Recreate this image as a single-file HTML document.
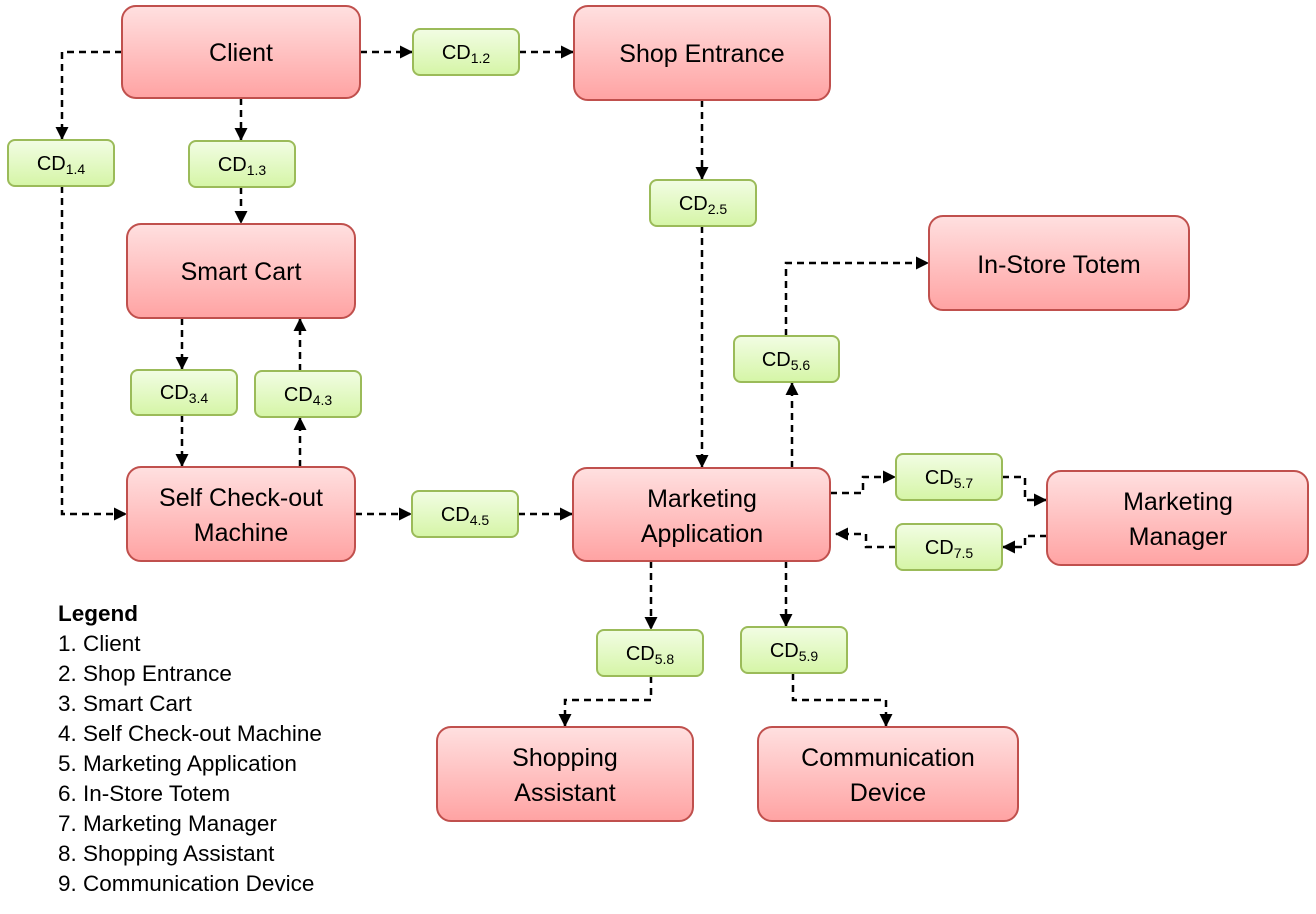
<!DOCTYPE html>
<html><head><meta charset="utf-8"><style>
body{margin:0;background:#fff}
svg{display:block;font-family:"Liberation Sans",sans-serif}
.r{fill:url(#gr);stroke:#c0504d;stroke-width:2}
.g{fill:url(#gg);stroke:#9bbb59;stroke-width:2}
.l{fill:none;stroke:#000;stroke-width:2.5;stroke-dasharray:7 5;marker-end:url(#a)}
.t{font-size:25px;text-anchor:middle;fill:#000}
.c{font-size:20px;text-anchor:middle;fill:#000}
.c tspan.s{font-size:14px}
.lg{font-size:22.5px;fill:#000}
</style></head><body>
<svg width="1316" height="914" viewBox="0 0 1316 914">
<defs>
<linearGradient id="gr" x1="0" y1="0" x2="0" y2="1"><stop offset="0" stop-color="#ffe0e0"/><stop offset="1" stop-color="#ffa3a3"/></linearGradient>
<linearGradient id="gg" x1="0" y1="0" x2="0" y2="1"><stop offset="0" stop-color="#f2fde4"/><stop offset="1" stop-color="#d5f5a6"/></linearGradient>
<marker id="a" markerWidth="13" markerHeight="13" refX="12" refY="6.5" orient="auto" markerUnits="userSpaceOnUse"><path d="M0,0 L13,6.5 L0,13 z" fill="#000"/></marker>
</defs>
<path class="l" d="M122,52 H62 V139"/>
<path class="l" d="M241,98 V140"/>
<path class="l" d="M360,52 H412"/>
<path class="l" d="M519,52 H573"/>
<path class="l" d="M62,186 V514 H126"/>
<path class="l" d="M241,187 V223"/>
<path class="l" d="M182,318 V369"/>
<path class="l" d="M182,415 V466"/>
<path class="l" d="M300,467 V418"/>
<path class="l" d="M300,371 V319"/>
<path class="l" d="M355,514 H411"/>
<path class="l" d="M518,514 H572"/>
<path class="l" d="M702,100 V179"/>
<path class="l" d="M702,226 V467"/>
<path class="l" d="M792,468 V383"/>
<path class="l" d="M786,336 V263 H928"/>
<path class="l" d="M830,493 H863 V477 H895"/>
<path class="l" d="M1002,477 H1025 V500 H1046"/>
<path class="l" d="M1047,536 H1025 V547 H1003"/>
<path class="l" d="M896,547 H866 V534 H836"/>
<path class="l" d="M651,561 V629"/>
<path class="l" d="M786,561 V626"/>
<path class="l" d="M651,676 V700 H565 V726"/>
<path class="l" d="M793,673 V700 H886 V726"/>
<rect class="r" x="122" y="6" width="238" height="92" rx="14"/><text class="t" x="241" y="61">Client</text>
<rect class="r" x="574" y="6" width="256" height="94" rx="14"/><text class="t" x="702" y="62">Shop Entrance</text>
<rect class="r" x="127" y="224" width="228" height="94" rx="14"/><text class="t" x="241" y="280">Smart Cart</text>
<rect class="r" x="127" y="467" width="228" height="94" rx="14"/><text class="t" x="241" y="506">Self Check-out</text><text class="t" x="241" y="541">Machine</text>
<rect class="r" x="573" y="468" width="257" height="93" rx="14"/><text class="t" x="702" y="507">Marketing</text><text class="t" x="702" y="542">Application</text>
<rect class="r" x="929" y="216" width="260" height="94" rx="14"/><text class="t" x="1059" y="273">In-Store Totem</text>
<rect class="r" x="1047" y="471" width="261" height="94" rx="14"/><text class="t" x="1178" y="510">Marketing</text><text class="t" x="1178" y="545">Manager</text>
<rect class="r" x="437" y="727" width="256" height="94" rx="14"/><text class="t" x="565" y="766">Shopping</text><text class="t" x="565" y="801">Assistant</text>
<rect class="r" x="758" y="727" width="260" height="94" rx="14"/><text class="t" x="888" y="766">Communication</text><text class="t" x="888" y="801">Device</text>
<g>
<rect class="g" x="413" y="29" width="106" height="46" rx="7"/><text class="c" x="466" y="59">CD<tspan class="s" dy="4">1.2</tspan></text>
<rect class="g" x="8" y="140" width="106" height="46" rx="7"/><text class="c" x="61" y="170">CD<tspan class="s" dy="4">1.4</tspan></text>
<rect class="g" x="189" y="141" width="106" height="46" rx="7"/><text class="c" x="242" y="171">CD<tspan class="s" dy="4">1.3</tspan></text>
<rect class="g" x="650" y="180" width="106" height="46" rx="7"/><text class="c" x="703" y="210">CD<tspan class="s" dy="4">2.5</tspan></text>
<rect class="g" x="734" y="336" width="105" height="46" rx="7"/><text class="c" x="786" y="366">CD<tspan class="s" dy="4">5.6</tspan></text>
<rect class="g" x="131" y="370" width="106" height="45" rx="7"/><text class="c" x="184" y="399">CD<tspan class="s" dy="4">3.4</tspan></text>
<rect class="g" x="255" y="371" width="106" height="46" rx="7"/><text class="c" x="308" y="401">CD<tspan class="s" dy="4">4.3</tspan></text>
<rect class="g" x="412" y="491" width="106" height="46" rx="7"/><text class="c" x="465" y="521">CD<tspan class="s" dy="4">4.5</tspan></text>
<rect class="g" x="896" y="454" width="106" height="46" rx="7"/><text class="c" x="949" y="484">CD<tspan class="s" dy="4">5.7</tspan></text>
<rect class="g" x="896" y="524" width="106" height="46" rx="7"/><text class="c" x="949" y="554">CD<tspan class="s" dy="4">7.5</tspan></text>
<rect class="g" x="597" y="630" width="106" height="46" rx="7"/><text class="c" x="650" y="660">CD<tspan class="s" dy="4">5.8</tspan></text>
<rect class="g" x="741" y="627" width="106" height="46" rx="7"/><text class="c" x="794" y="657">CD<tspan class="s" dy="4">5.9</tspan></text>
</g>
<text class="lg" x="58" y="621" font-weight="bold">Legend</text>
<text class="lg" x="58" y="651">1. Client</text>
<text class="lg" x="58" y="681">2. Shop Entrance</text>
<text class="lg" x="58" y="711">3. Smart Cart</text>
<text class="lg" x="58" y="741">4. Self Check-out Machine</text>
<text class="lg" x="58" y="771">5. Marketing Application</text>
<text class="lg" x="58" y="801">6. In-Store Totem</text>
<text class="lg" x="58" y="831">7. Marketing Manager</text>
<text class="lg" x="58" y="861">8. Shopping Assistant</text>
<text class="lg" x="58" y="891">9. Communication Device</text>
</svg>
</body></html>
